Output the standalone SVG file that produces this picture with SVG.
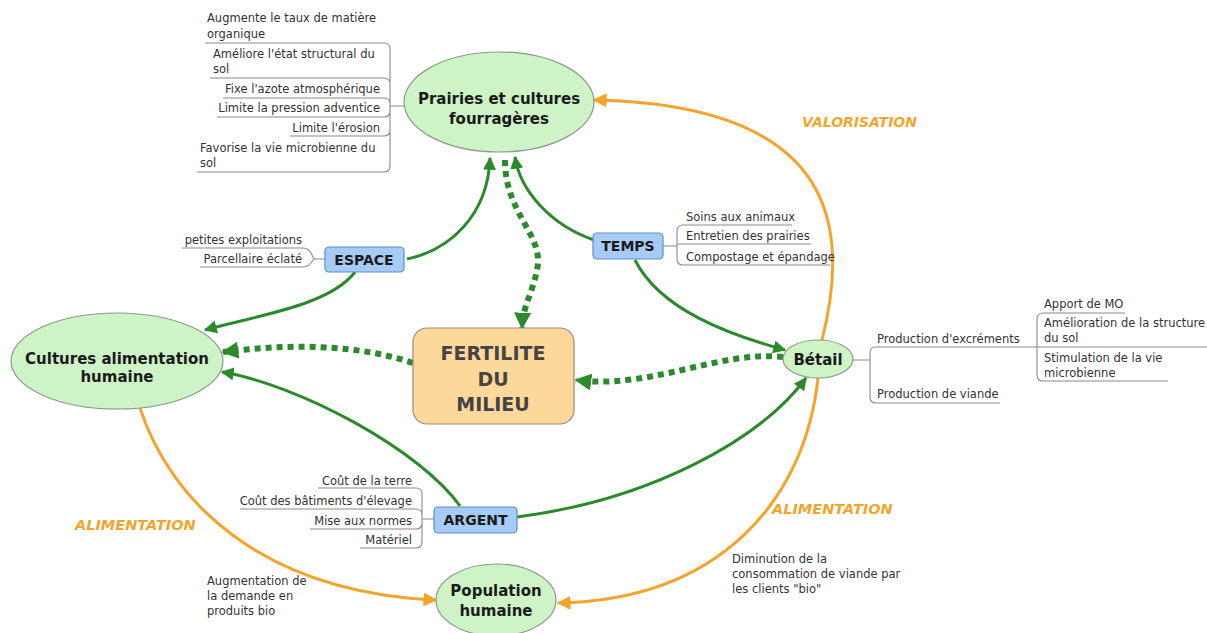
<svg xmlns="http://www.w3.org/2000/svg" width="1207" height="633" viewBox="0 0 1207 633">
<defs>
<style>
.t{font-family:"DejaVu Sans",Verdana,sans-serif;font-size:11.5px;fill:#333}
.te{font-family:"DejaVu Sans",Verdana,sans-serif;font-size:11.5px;fill:#333;text-anchor:end}
.nb{font-family:"DejaVu Sans",Verdana,sans-serif;font-weight:bold;font-size:15px;fill:#1a1a1a;text-anchor:middle}
.bb{font-family:"DejaVu Sans",Verdana,sans-serif;font-weight:bold;font-size:14px;fill:#1a1a1a;text-anchor:middle}
.lab{font-family:"DejaVu Sans",Verdana,sans-serif;font-weight:bold;font-style:italic;font-size:14.5px;fill:#f2a52b}
.ell{fill:#cdf3c6;stroke:#8a9c86;stroke-width:1.2}
.box{fill:#a6ccf6;stroke:#5b8ec8;stroke-width:1.2}
.tree{fill:none;stroke:#8a8a8a;stroke-width:1.1}
.g{fill:none;stroke:#2b8a2b;stroke-width:3}
.gd{fill:none;stroke:#2b8a2b;stroke-width:6;stroke-dasharray:6 5}
.o{fill:none;stroke:#f5a32a;stroke-width:3}
</style>
<marker id="ag" viewBox="0 0 10 10" refX="9" refY="5" markerWidth="13" markerHeight="13" markerUnits="userSpaceOnUse" orient="auto"><path d="M0,0 L10,5 L0,10 z" fill="#2b8a2b"/></marker>
<marker id="agd" viewBox="0 0 10 10" refX="9" refY="5" markerWidth="17" markerHeight="17" markerUnits="userSpaceOnUse" orient="auto"><path d="M0,0 L10,5 L0,10 z" fill="#2b8a2b"/></marker>
<marker id="ao" viewBox="0 0 10 10" refX="9" refY="5" markerWidth="14" markerHeight="14" markerUnits="userSpaceOnUse" orient="auto"><path d="M0,0 L10,5 L0,10 z" fill="#f5a32a"/></marker>
</defs>
<rect width="1207" height="633" fill="#fff"/>

<g id="connectors">
<path class="o" d="M822 340 C850 230 840 105 594 100" marker-end="url(#ao)"/>
<path class="o" d="M818 378 C805 500 720 600 558 603" marker-end="url(#ao)"/>
<path class="o" d="M140 408 C170 500 260 592 436 600" marker-end="url(#ao)"/>
<path class="g" d="M407 259 C450 250 488 215 490 158" marker-end="url(#ag)"/>
<path class="g" d="M355 272 C330 305 260 315 205 330" marker-end="url(#ag)"/>
<path class="g" d="M594 240 C550 225 520 190 515 157" marker-end="url(#ag)"/>
<path class="g" d="M635 260 C660 310 730 335 785 350" marker-end="url(#ag)"/>
<path class="g" d="M460 506 C420 450 300 385 222 372" marker-end="url(#ag)"/>
<path class="g" d="M517 517 C650 500 760 440 806 378" marker-end="url(#ag)"/>
<path class="gd" d="M505 160 C505 215 545 235 537 270 C532 295 523 305 522 328" marker-end="url(#agd)"/>
<path class="gd" d="M413 363 C350 342 280 345 223 352" marker-end="url(#agd)"/>
<path class="gd" d="M783 357 C720 350 650 390 576 380" marker-end="url(#agd)"/>
</g>

<g id="prairies">
<ellipse class="ell" cx="499" cy="102" rx="95" ry="50"/>
<text class="nb" x="499" y="104">Prairies et cultures</text>
<text class="nb" x="499" y="124">fourragères</text>
</g>

<g id="prairies-list">
<path class="tree" d="M390 49 V166 M390 106 H404 M205 43 H384 Q390 43 390 49 M210 78 H384 Q390 78 390 84 M223 98 H384 Q390 98 390 104 M217 117 H384 Q390 117 390 111 M290 136 H384 Q390 136 390 130 M197 172 H384 Q390 172 390 166"/>
<text class="t" x="207" y="22">Augmente le taux de matière</text>
<text class="t" x="207" y="38">organique</text>
<text class="t" x="213" y="58">Améliore l'état structural du</text>
<text class="t" x="213" y="73">sol</text>
<text class="te" x="380" y="93">Fixe l'azote atmosphérique</text>
<text class="te" x="380" y="112">Limite la pression adventice</text>
<text class="te" x="380" y="132">Limite l'érosion</text>
<text class="t" x="200" y="152">Favorise la vie microbienne du</text>
<text class="t" x="200" y="167">sol</text>
</g>

<g id="cultures">
<ellipse class="ell" cx="117" cy="361" rx="106" ry="48"/>
<text class="nb" x="117" y="364">Cultures alimentation</text>
<text class="nb" x="117" y="382">humaine</text>
</g>

<g id="fertilite">
<rect x="413" y="328" width="161" height="96" rx="14" fill="#fcd89b" stroke="#9c8c72" stroke-width="1.2"/>
<text class="nb" x="493" y="360" style="font-size:19px;fill:#444">FERTILITE</text>
<text class="nb" x="493" y="386" style="font-size:19px;fill:#444">DU</text>
<text class="nb" x="493" y="411" style="font-size:19px;fill:#444">MILIEU</text>
</g>

<g id="espace">
<path class="tree" d="M182 248 H302 Q308 248 311 253 L314 259 M200 267 H302 Q308 267 311 263 L314 259 H325"/>
<text class="te" x="302" y="244">petites exploitations</text>
<text class="te" x="302" y="263">Parcellaire éclaté</text>
<rect class="box" x="325" y="247" width="79" height="25" rx="4"/>
<text class="bb" x="364" y="265">ESPACE</text>
</g>

<g id="temps">
<path class="tree" d="M663 246 H677 M677 231 V259 M792 225 H683 Q677 225 677 231 M811 244 H677 M830 265 H683 Q677 265 677 259"/>
<rect class="box" x="593" y="233" width="70" height="26" rx="4"/>
<text class="bb" x="628" y="251">TEMPS</text>
<text class="t" x="686" y="221">Soins aux animaux</text>
<text class="t" x="686" y="240">Entretien des prairies</text>
<text class="t" x="686" y="261">Compostage et épandage</text>
</g>

<g id="betail">
<path class="tree" d="M852 360 H870 M870 353 V397 M1037 347 H876 Q870 347 870 353 M1000 403 H876 Q870 403 870 397 M1125 313 H1043 Q1037 313 1037 319 V375 Q1037 381 1043 381 H1168 M1037 347 H1207"/>
<ellipse class="ell" cx="818" cy="359" rx="35" ry="19"/>
<text class="nb" x="818" y="365">Bétail</text>
<text class="t" x="877" y="343">Production d'excréments</text>
<text class="t" x="877" y="398">Production de viande</text>
<text class="t" x="1044" y="308">Apport de MO</text>
<text class="t" x="1044" y="327">Amélioration de la structure</text>
<text class="t" x="1044" y="342">du sol</text>
<text class="t" x="1044" y="362">Stimulation de la vie</text>
<text class="t" x="1044" y="377">microbienne</text>
</g>

<g id="argent">
<path class="tree" d="M422 519 H434 M422 494 V542 M318 488 H416 Q422 488 422 494 M240 509 H416 Q422 509 422 515 M310 529 H416 Q422 529 422 523 M360 548 H416 Q422 548 422 542"/>
<text class="te" x="412" y="485">Coût de la terre</text>
<text class="te" x="412" y="505">Coût des bâtiments d'élevage</text>
<text class="te" x="412" y="525">Mise aux normes</text>
<text class="te" x="412" y="544">Matériel</text>
<rect class="box" x="434" y="507" width="83" height="26" rx="4"/>
<text class="bb" x="475.5" y="525">ARGENT</text>
</g>

<g id="population">
<ellipse class="ell" cx="496" cy="600" rx="60" ry="36"/>
<text class="nb" x="496" y="596">Population</text>
<text class="nb" x="496" y="616">humaine</text>
</g>

<g id="labels">
<text class="lab" x="802" y="127" style="font-size:14px">VALORISATION</text>
<text class="lab" x="75" y="530">ALIMENTATION</text>
<text class="lab" x="772" y="514">ALIMENTATION</text>
<text class="t" x="207" y="585">Augmentation de</text>
<text class="t" x="207" y="600">la demande en</text>
<text class="t" x="207" y="615">produits bio</text>
<text class="t" x="732" y="563">Diminution de la</text>
<text class="t" x="732" y="578">consommation de viande par</text>
<text class="t" x="732" y="593">les clients "bio"</text>
</g>
</svg>
